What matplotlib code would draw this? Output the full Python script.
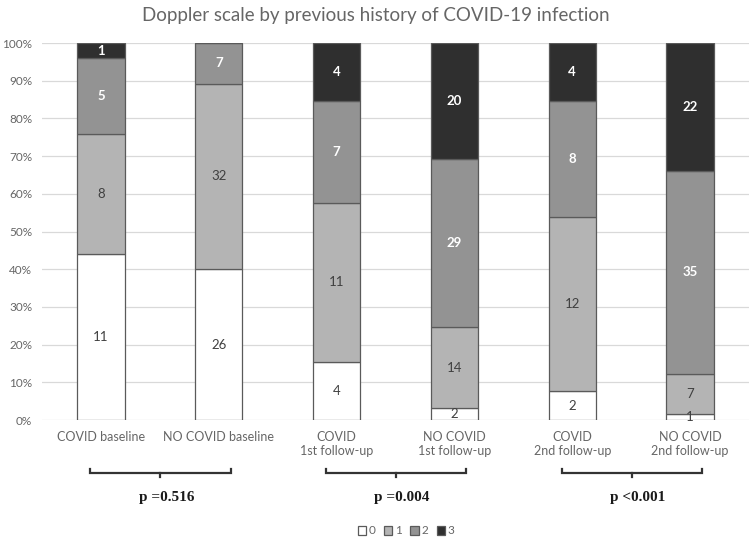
import matplotlib
matplotlib.use("Agg")
import matplotlib.pyplot as plt
from matplotlib.transforms import blended_transform_factory
import numpy as np

categories = ["COVID baseline", "NO COVID baseline", "COVID\n1st follow-up",
              "NO COVID\n1st follow-up", "COVID\n2nd follow-up", "NO COVID\n2nd follow-up"]
grade0 = [11, 26, 4, 2, 2, 1]
grade1 = [8, 32, 11, 14, 12, 7]
grade2 = [5, 7, 7, 29, 8, 35]
grade3 = [1, 0, 4, 20, 4, 22]
series_names = ["0", "1", "2", "3"]
p_labels = ["p =0.516", "p =0.004", "p <0.001"]
pairs = [(0, 1), (2, 3), (4, 5)]

colors = ["#ffffff", "#b4b4b4", "#939393", "#2f2f2f"]
label_colors = ["#404040", "#404040", "#ffffff", "#ffffff"]
label_weights = ["normal", "normal", "bold", "bold"]

plt.rcParams['font.family'] = ['Lato', 'DejaVu Sans']

fig = plt.figure(figsize=(7.52, 5.38), dpi=100)
ax = fig.add_axes([0.0559, 0.2193, 0.94, 0.7007])

data = np.array([grade0, grade1, grade2, grade3], dtype=float)
totals = data.sum(axis=0)
pct = data / totals * 100
x = np.arange(len(categories))
bottom = np.zeros(len(categories))
handles = []
for k in range(4):
    b = ax.bar(x, pct[k], 0.4, bottom=bottom, color=colors[k], edgecolor="#5a5a5a",
               linewidth=0.9, label=series_names[k], zorder=3)
    handles.append(b)
    for i in range(len(categories)):
        if data[k, i] > 0:
            ax.text(x[i], bottom[i] + pct[k, i] / 2, str(int(data[k, i])),
                    ha="center", va="center", fontsize=9.5, color=label_colors[k],
                    fontweight=label_weights[k], zorder=4)
    bottom += pct[k]

ax.set_xlim(-0.5, len(categories) - 0.5)
ax.set_ylim(0, 100)
ax.set_yticks(np.arange(0, 101, 10))
ax.set_yticklabels([f"{v}%" for v in range(0, 101, 10)])
ax.tick_params(axis="y", length=0, labelsize=8.5, labelcolor="#666666", pad=7)
ax.set_xticks(x)
ax.set_xticklabels(categories)
ax.tick_params(axis="x", length=0, labelsize=9, labelcolor="#666666", pad=8)
for s in ax.spines.values():
    s.set_visible(False)
ax.grid(axis="y", color="#d9d9d9", linewidth=0.9, zorder=0)
ax.set_axisbelow(True)

fig.text(0.5, 0.972, "Doppler scale by previous history of COVID-19 infection",
         ha="center", va="center", fontsize=13.5, color="#666666")

trans = blended_transform_factory(ax.transData, fig.transFigure)
yb = 1 - 473 / 538
h = 0.008
for (i0, i1), pl in zip(pairs, p_labels):
    xa = i0 - 0.09
    xb = i1 + 0.1
    xm = (xa + xb) / 2
    ax.plot([xa, xa, xb, xb], [yb + h, yb, yb, yb + h], color="#333333", lw=1.6,
            transform=trans, clip_on=False, solid_joinstyle="miter")
    ax.plot([xm, xm], [yb, yb - h], color="#333333", lw=1.6, transform=trans, clip_on=False)
    ax.text(xm + 0.05, 1 - 497 / 538, pl, transform=trans, ha="center", va="center",
            fontsize=11, fontweight="bold", family="Liberation Serif", color="#1a1a1a")

fig.legend(handles=handles, labels=series_names, loc="center", bbox_to_anchor=(0.54, 1 - 531 / 538),
           ncol=4, frameon=False, fontsize=8.5, handlelength=0.7, handleheight=0.7,
           handletextpad=0.25, columnspacing=0.7, labelcolor="#666666")

fig.savefig("out.png", dpi=100)
